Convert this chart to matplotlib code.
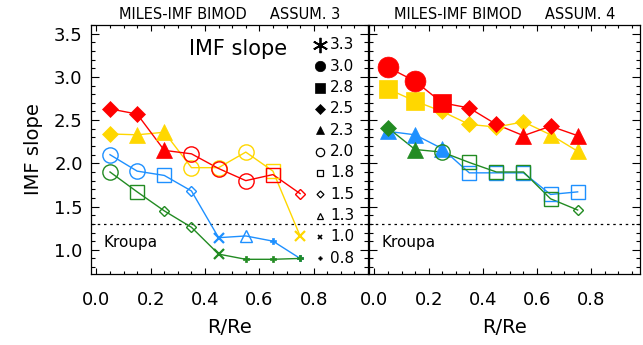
import matplotlib
matplotlib.use("Agg")
import matplotlib.pyplot as plt
from matplotlib.ticker import MultipleLocator, FixedLocator

# data
radius = [0.05, 0.15, 0.25, 0.35, 0.45, 0.55, 0.65, 0.75]

# ASSUM. 3 (left panel)
red_a3 = [2.63, 2.57, 2.15, 2.11, 1.94, 1.80, 1.87, 1.65]
red_a3_sym = [2.5, 2.5, 2.3, 2.0, 2.0, 2.0, 1.8, 1.5]
yellow_a3 = [2.34, 2.33, 2.36, 1.95, 1.95, 2.13, 1.91, 1.16]
yellow_a3_sym = [2.5, 2.3, 2.3, 2.0, 2.0, 2.0, 1.8, 1.0]
blue_a3 = [2.10, 1.91, 1.86, 1.68, 1.14, 1.16, 1.10, 0.90]
blue_a3_sym = [2.0, 2.0, 1.8, 1.5, 1.0, 1.3, 0.8, 0.8]
green_a3 = [1.90, 1.67, 1.45, 1.26, 0.95, 0.89, 0.89, 0.90]
green_a3_sym = [2.0, 1.8, 1.5, 1.5, 1.0, 0.8, 0.8, 0.8]

# ASSUM. 4 (right panel)
red_a4 = [3.11, 2.95, 2.70, 2.64, 2.45, 2.32, 2.43, 2.32]
red_a4_sym = [3.0, 3.0, 2.8, 2.5, 2.5, 2.3, 2.5, 2.3]
yellow_a4 = [2.86, 2.72, 2.60, 2.45, 2.42, 2.48, 2.33, 2.14]
yellow_a4_sym = [2.8, 2.8, 2.5, 2.5, 2.5, 2.5, 2.3, 2.3]
blue_a4 = [2.37, 2.33, 2.17, 1.89, 1.89, 1.89, 1.64, 1.67]
blue_a4_sym = [2.3, 2.3, 2.3, 1.8, 1.8, 1.8, 1.8, 1.8]
green_a4 = [2.41, 2.16, 2.13, 2.01, 1.90, 1.90, 1.59, 1.46]
green_a4_sym = [2.5, 2.3, 2.0, 1.8, 1.8, 1.8, 1.8, 1.5]

legend_vals = [3.3, 3.0, 2.8, 2.5, 2.3, 2.0, 1.8, 1.5, 1.3, 1.0, 0.8]
kroupa = 1.3

# symbol styles: marker, filled, size in plot, size in legend
sym = {
    3.3: ((6, 2, 0), False, 18, 11),
    3.0: ("o", True, 15, 7.5),
    2.8: ("s", True, 13.5, 7),
    2.5: ("D", True, 8.5, 5),
    2.3: ("^", True, 11, 6),
    2.0: ("o", False, 11, 6),
    1.8: ("s", False, 9.5, 5),
    1.5: ("D", False, 4.8, 3.5),
    1.3: ("^", False, 8, 4),
    1.0: ("x", False, 6.5, 3.5),
    0.8: ("P", True, 4, 2.5),
}

colors = {"red": "#FF0000", "yellow": "#FFD700", "blue": "#1E90FF", "green": "#228B22"}

fig = plt.figure(figsize=(6.43, 3.45), dpi=100)
axL = fig.add_axes([0.1415, 0.2058, 0.4308, 0.7217])
axR = fig.add_axes([0.5739, 0.2058, 0.4214, 0.7217])


def draw_series(ax, y, syms, col):
    ax.plot(radius, y, color=col, lw=1.0, zorder=2)
    for xi, yi, s in zip(radius, y, syms):
        m, filled, ms, _ = sym[s]
        if m == "x":
            ax.plot(xi, yi, marker=m, ms=ms, mew=1.6, color=col, ls="none", zorder=3)
        elif filled:
            ax.plot(xi, yi, marker=m, ms=ms, mfc=col, mec=col, mew=0.5, ls="none", zorder=3)
        else:
            ax.plot(xi, yi, marker=m, ms=ms, mfc="none", mec=col, mew=1.0, ls="none", zorder=3)


draw_series(axL, yellow_a3, yellow_a3_sym, colors["yellow"])
draw_series(axL, red_a3, red_a3_sym, colors["red"])
draw_series(axL, blue_a3, blue_a3_sym, colors["blue"])
draw_series(axL, green_a3, green_a3_sym, colors["green"])

draw_series(axR, yellow_a4, yellow_a4_sym, colors["yellow"])
draw_series(axR, red_a4, red_a4_sym, colors["red"])
draw_series(axR, blue_a4, blue_a4_sym, colors["blue"])
draw_series(axR, green_a4, green_a4_sym, colors["green"])

titles = ["MILES-IMF BIMOD     ASSUM. 3", "MILES-IMF BIMOD     ASSUM. 4"]
for ax, t, xmax in zip([axL, axR], titles, [1.0, 0.98]):
    ax.set_xlim(-0.02, xmax)
    ax.set_ylim(0.72, 3.6)
    ax.axhline(kroupa, color="black", ls=(0, (2, 3)), lw=0.9, zorder=1)
    ax.text(0.045, 0.125, "Kroupa", transform=ax.transAxes, fontsize=11,
            va="center", ha="left")
    ax.set_title(t, fontsize=10.5, pad=4)
    ax.xaxis.set_major_locator(FixedLocator([0.0, 0.2, 0.4, 0.6, 0.8]))
    ax.xaxis.set_minor_locator(MultipleLocator(0.05))
    ax.yaxis.set_major_locator(MultipleLocator(0.5))
    ax.yaxis.set_minor_locator(MultipleLocator(0.1))
    ax.tick_params(which="both", direction="in", top=True, right=True, width=0.8)
    ax.tick_params(axis="y", which="major", length=6)
    ax.tick_params(axis="y", which="minor", length=3)
    ax.tick_params(axis="x", which="major", length=4.5)
    ax.tick_params(axis="x", which="minor", length=2.5)
    ax.tick_params(axis="x", labelsize=13, pad=12)
    ax.tick_params(axis="y", labelsize=13, pad=6)
    ax.set_xlabel("R/Re", fontsize=14, labelpad=7)
    for sp in ax.spines.values():
        sp.set_linewidth(0.9)

axL.set_ylabel("IMF slope", fontsize=14, labelpad=8)
axR.set_yticklabels([])

# symbol key
axL.text(0.53, 0.905, "IMF slope", transform=axL.transAxes, fontsize=15,
         ha="center", va="center")
for i, v in enumerate(legend_vals):
    m, filled, _, ms = sym[v]
    yk = 0.92 - i * 0.0857
    if v == 3.3:
        axL.plot(0.827, yk, marker=m, ms=ms, color="black", mew=1.3,
                 transform=axL.transAxes, clip_on=False)
    elif filled:
        axL.plot(0.827, yk, marker=m, ms=ms, color="black", transform=axL.transAxes,
                 clip_on=False, mew=0.5)
    else:
        axL.plot(0.827, yk, marker=m, ms=ms, mfc="none", mec="black",
                 mew=1.2 if m == "x" else 0.9, transform=axL.transAxes, clip_on=False)
    axL.text(0.863, yk, "%.1f" % v, transform=axL.transAxes, fontsize=11,
             ha="left", va="center")

fig.savefig("out.png", dpi=100)
